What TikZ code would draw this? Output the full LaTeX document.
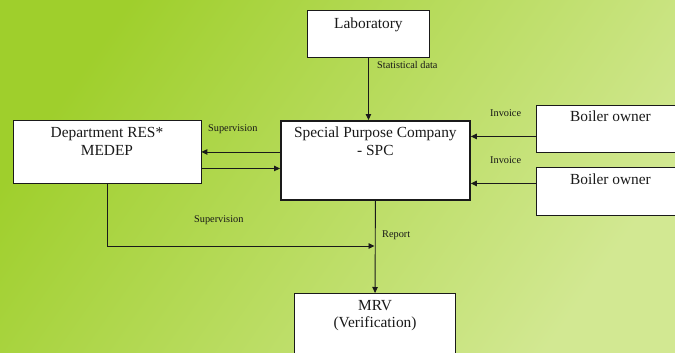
\documentclass[tikz,border=0pt]{standalone}
\usepackage{fontspec}
\setmainfont{Liberation Serif}
\usetikzlibrary{arrows.meta,calc}
\definecolor{bgA}{HTML}{9FCF2C}
\definecolor{bgB}{HTML}{D2E892}
\definecolor{ink}{HTML}{1A1A1A}
\tikzset{
  box/.style={draw=ink, fill=white, line width=0.9pt, inner sep=0pt, anchor=north west},
  boxtext/.style={anchor=north, inner sep=0pt, align=center, text=ink, font=\fontsize{15.4}{17.3}\selectfont},
  lbl/.style={anchor=base west, inner sep=0pt, text=ink!90!black, font=\fontsize{10.3}{12}\selectfont},
  arr/.style={draw=ink, line width=0.9pt, -{Triangle[length=6pt,width=5.5pt]}}
}
\begin{document}
\begin{tikzpicture}[x=1pt,y=-1pt]
\useasboundingbox (0,0) rectangle (675,353);
\shade[top color=bgA, bottom color=bgB, shading angle=55] (0,0) rectangle (675,353);
% boxes
\node[box, minimum width=122pt, minimum height=47pt] (lab) at (307,10) {};
\node[box, minimum width=188pt, minimum height=63pt] (dept) at (12.5,120) {};
\node[box, line width=1.8pt, minimum width=189pt, minimum height=79pt] (spc) at (280,120) {};
\node[box, minimum width=149pt, minimum height=47pt] (b1) at (535.5,105) {};
\node[box, minimum width=149pt, minimum height=48pt] (b2) at (535.5,167) {};
\node[box, line width=1.1pt, minimum width=161pt, minimum height=70pt] (mrv) at (294,293) {};
% box texts
\node[boxtext] (labt) at ([yshift=-7.3pt]lab.north) {Laboratory};
\node[boxtext] (deptt) at ([yshift=-7.5pt]dept.north) {Department RES*\\MEDEP};
\node[boxtext] (spct) at ([yshift=-7pt]spc.north) {Special Purpose Company\\- SPC};
\node[boxtext] (b1t) at ([yshift=-5.8pt]b1.north) {Boiler owner};
\node[boxtext] (b2t) at ([yshift=-6.3pt]b2.north) {Boiler owner};
\node[boxtext] (mrvt) at ([yshift=-7pt]mrv.north) {MRV\\(Verification)};
% connectors
\coordinate (join) at (374.5,246);
\draw[arr] (lab.south) -- (lab.south |- spc.north);
\draw[arr] (spc.west |- dept.east) -- (dept.east);
\draw[arr] ([yshift=-16.5pt]dept.east) -- ([yshift=-16.5pt]dept.east -| spc.west);
\draw[arr] ([yshift=-7.5pt]b1.west) -- ([yshift=-7.5pt]b1.west -| spc.east);
\draw[arr] ([yshift=8pt]b2.west) -- ([yshift=8pt]b2.west -| spc.east);
\draw[arr] (dept.south) |- (join);
\draw[arr] (spc.south) -- (mrv.north);
% labels
\node[lbl] (l1) at (377,68.5) {Statistical data};
\node[lbl] (l2) at (208,131) {Supervision};
\node[lbl] (l3) at (194,222) {Supervision};
\node[lbl] (l4) at (490,116) {Invoice};
\node[lbl] (l5) at (490,163) {Invoice};
\node[lbl] (l6) at (382,237.5) {Report};
\end{tikzpicture}
\end{document}
